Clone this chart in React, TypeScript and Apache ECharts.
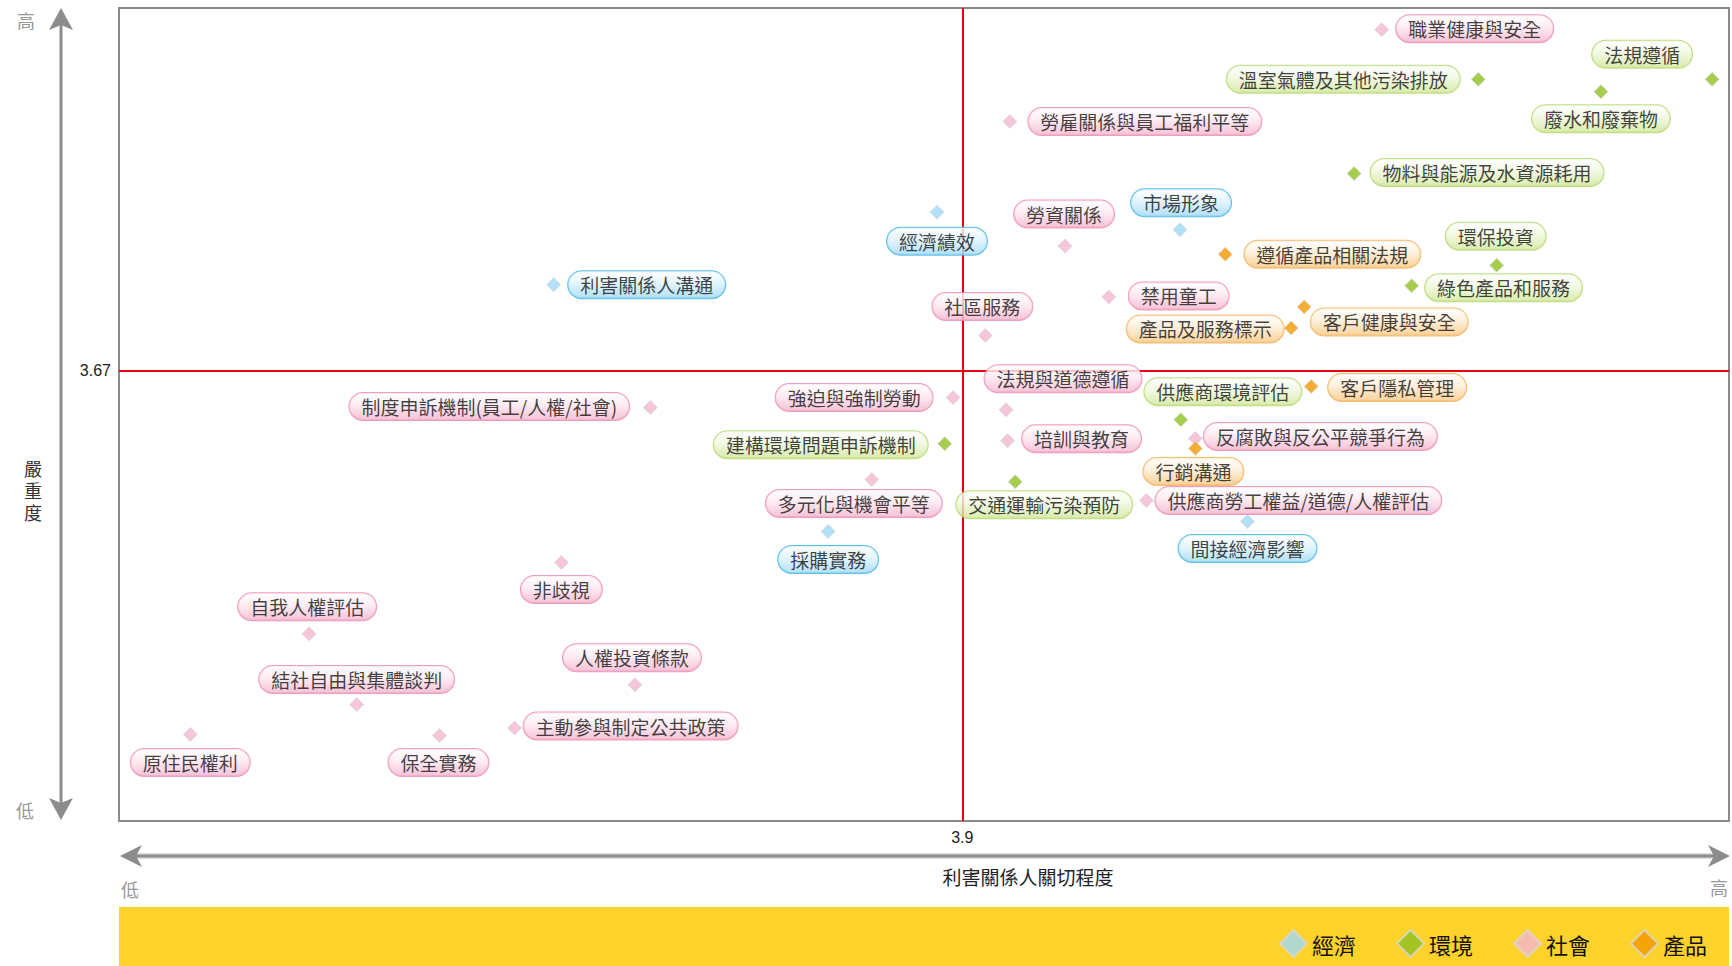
import React, { useEffect, useRef } from "react";
import * as echarts from "echarts";

// ---- data ----
const categories = ["經濟", "環境", "社會", "產品"];

const econNames = ["經濟績效", "市場形象", "利害關係人溝通", "採購實務", "間接經濟影響"];
const econX = [3.867, 4.184, 3.367, 3.725, 4.272];
const econY = [3.941, 3.911, 3.817, 3.395, 3.412];

const envNames = [
  "法規遵循", "廢水和廢棄物", "溫室氣體及其他污染排放", "物料與能源及水資源耗用",
  "環保投資", "綠色產品和服務", "建構環境問題申訴機制", "交通運輸污染預防", "供應商環境評估",
];
const envX = [4.878, 4.733, 4.573, 4.411, 4.597, 4.486, 3.877, 3.969, 4.185];
const envY = [4.168, 4.147, 4.168, 4.007, 3.850, 3.815, 3.545, 3.480, 3.586];

const socNames = [
  "職業健康與安全", "勞雇關係與員工福利平等", "勞資關係", "社區服務", "禁用童工",
  "法規與道德遵循", "強迫與強制勞動", "制度申訴機制(員工/人權/社會)", "培訓與教育",
  "多元化與機會平等", "反腐敗與反公平競爭行為", "供應商勞工權益/道德/人權評估", "非歧視",
  "自我人權評估", "結社自由與集體談判", "人權投資條款", "主動參與制定公共政策", "原住民權利", "保全實務",
];
const socX = [4.447, 3.962, 4.034, 3.930, 4.091, 3.957, 3.888, 3.493, 3.959, 3.782, 4.204, 4.140, 3.377, 3.048, 3.110, 3.473, 3.316, 2.893, 3.218];
const socY = [4.253, 4.096, 3.883, 3.730, 3.796, 3.603, 3.624, 3.607, 3.550, 3.484, 3.554, 3.448, 3.342, 3.220, 3.099, 3.133, 3.059, 3.048, 3.046];

const prodNames = ["遵循產品相關法規", "客戶健康與安全", "產品及服務標示", "客戶隱私管理", "行銷溝通"];
const prodX = [4.243, 4.346, 4.329, 4.355, 4.204];
const prodY = [3.869, 3.779, 3.743, 3.643, 3.537];

const xThreshold = 3.9;
const yThreshold = 3.67;

const yAxisTitleChars = ["嚴", "重", "度"];

// ---- label placement (style: offset of pill centre from its marker, px) ----
const econLabelOffset = [[0, 29], [1, -27], [93, 0], [0, 28], [0, 27]];
const envLabelOffset = [[-70, -25], [0, 27], [-135, 0], [133, -1], [-1, -29], [92, 2], [-124, 1], [29, 23], [42, -28]];
const socLabelOffset = [
  [93, -1], [135, 0], [-1, -32], [-3, -29], [70, -1], [57, -31], [-99, 0], [-161, -1], [74, -2],
  [-18, 24], [125, -2], [152, 0], [0, 27], [-2, -27], [0, -25], [-3, -27], [116, -2], [0, 28], [-1, 27],
];
const prodLabelOffset = [[107, 0], [85, 15], [-86, 1], [86, 1], [-2, 23]];

const markerColors = ["#9FD8F6", "#8DC21F", "#F2B6CF", "#F39800"];
const pillBorder = ["#36B1E6", "#B0D465", "#EC84AF", "#F3AC50"];
const pillStops = [
  ["#ffffff", "#dcf2fc", "#9fd8f4"],
  ["#ffffff", "#eff7dc", "#cfe696"],
  ["#ffffff", "#fde7f0", "#f3b2cb"],
  ["#ffffff", "#fdecd2", "#f7c681"],
];

const FONT = "'Noto Sans CJK TC', 'Noto Sans CJK SC', sans-serif";

function buildSeries(idx: number, names: string[], xs: number[], ys: number[], offs: number[][]) {
  const stops = pillStops[idx];
  return {
    name: categories[idx],
    type: "scatter",
    symbol: "diamond",
    symbolSize: 14,
    itemStyle: { color: markerColors[idx], borderColor: "#d8d8d8", borderWidth: 1 },
    label: {
      show: true,
      position: "inside",
      formatter: "{b}",
      fontSize: 19,
      fontFamily: FONT,
      color: "#111",
      lineHeight: 20,
      padding: [4, 12, 3, 12],
      borderRadius: 14,
      borderColor: pillBorder[idx],
      borderWidth: 1,
      backgroundColor: new echarts.graphic.LinearGradient(0, 0, 0, 1, [
        { offset: 0, color: stops[0] },
        { offset: 0.45, color: stops[1] },
        { offset: 1, color: stops[2] },
      ]),
    },
    emphasis: { disabled: true },
    data: names.map((n, i) => ({
      name: n,
      value: [xs[i], ys[i]],
      label: { offset: offs[i] },
    })),
    z: 3,
  };
}

export default function App() {
  const ref = useRef<HTMLDivElement>(null);
  useEffect(() => {
    document.body.style.margin = "0";
    const chart = echarts.init(ref.current!, undefined, { renderer: "svg" });
    const series: any[] = [
      buildSeries(0, econNames, econX, econY, econLabelOffset),
      buildSeries(1, envNames, envX, envY, envLabelOffset),
      buildSeries(2, socNames, socX, socY, socLabelOffset),
      buildSeries(3, prodNames, prodX, prodY, prodLabelOffset),
    ];
    series[0].markLine = {
      silent: true,
      symbol: ["none", "none"],
      lineStyle: { color: "#E60012", width: 2, type: "solid" },
      label: {
        show: true,
        position: "start",
        fontSize: 16,
        color: "#222",
        fontFamily: "'Liberation Sans', Arial, sans-serif",
        distance: 8,
        formatter: (p: any) => String(p.value),
      },
      data: [{ xAxis: xThreshold }, { yAxis: yThreshold }],
      z: 2,
    };
    const titleChars = yAxisTitleChars.map((c, i) => ({
      type: "text",
      x: 33,
      y: 468 + i * 22,
      style: { text: c, fontSize: 18, fill: "#333", fontFamily: FONT, align: "center", verticalAlign: "middle" },
    }));
    chart.setOption({
      animation: false,
      grid: {
        left: 119, right: 3, top: 8, bottom: 145,
        show: true, borderColor: "#8a8a8a", borderWidth: 2, backgroundColor: "transparent",
      },
      xAxis: {
        type: "value", min: 2.8, max: 4.9,
        axisLine: { show: false }, axisTick: { show: false }, axisLabel: { show: false }, splitLine: { show: false },
      },
      yAxis: {
        type: "value", min: 2.9, max: 4.29,
        axisLine: { show: false }, axisTick: { show: false }, axisLabel: { show: false }, splitLine: { show: false },
      },
      legend: {
        data: categories,
        right: 20,
        top: 924,
        icon: "diamond",
        itemWidth: 27,
        itemHeight: 27,
        itemGap: 40,
        textStyle: { fontSize: 22, color: "#111", fontFamily: FONT },
        selectedMode: false,
      },
      graphic: [
        { type: "rect", shape: { x: 119, y: 907, width: 1610, height: 59 }, style: { fill: "#FCD22B" }, z: 0 },
        { type: "line", shape: { x1: 61, y1: 24, x2: 61, y2: 804 }, style: { stroke: "#8c8c8c", lineWidth: 3 } },
        { type: "polygon", shape: { points: [[61, 8], [73, 30], [61, 25], [49, 30]] }, style: { fill: "#8c8c8c" } },
        { type: "polygon", shape: { points: [[61, 820], [73, 798], [61, 803], [49, 798]] }, style: { fill: "#8c8c8c" } },
        { type: "line", shape: { x1: 132, y1: 856, x2: 1716, y2: 856 }, style: { stroke: "#dcdcdc", lineWidth: 6 } },
        { type: "line", shape: { x1: 132, y1: 856, x2: 1716, y2: 856 }, style: { stroke: "#8c8c8c", lineWidth: 3 } },
        { type: "polygon", shape: { points: [[120, 856], [142, 845], [136, 856], [142, 867]] }, style: { fill: "#8c8c8c" } },
        { type: "polygon", shape: { points: [[1730, 856], [1708, 845], [1714, 856], [1708, 867]] }, style: { fill: "#8c8c8c" } },
        { type: "text", x: 26, y: 20, style: { text: "高", fontSize: 18, fill: "#9a9a9a", fontFamily: FONT, align: "center", verticalAlign: "middle" } },
        { type: "text", x: 25, y: 810, style: { text: "低", fontSize: 18, fill: "#9a9a9a", fontFamily: FONT, align: "center", verticalAlign: "middle" } },
        ...titleChars,
        { type: "text", x: 1028, y: 876, style: { text: "利害關係人關切程度", fontSize: 19, fill: "#222", fontFamily: FONT, align: "center", verticalAlign: "middle" } },
        { type: "text", x: 130, y: 889, style: { text: "低", fontSize: 18, fill: "#9a9a9a", fontFamily: FONT, align: "center", verticalAlign: "middle" } },
        { type: "text", x: 1719, y: 887, style: { text: "高", fontSize: 18, fill: "#9a9a9a", fontFamily: FONT, align: "center", verticalAlign: "middle" } },
      ],
      series,
    });
    return () => chart.dispose();
  }, []);
  return <div ref={ref} style={{ width: 1732, height: 966 }} />;
}
